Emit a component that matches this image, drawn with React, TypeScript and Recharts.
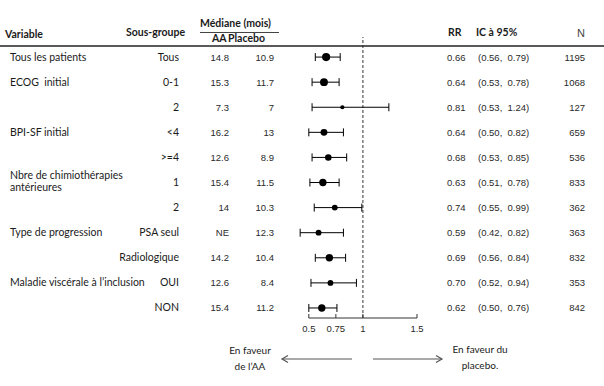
import React from 'react';
import { ComposedChart, Scatter, XAxis, YAxis, ZAxis, ErrorBar, ReferenceLine, Customized } from 'recharts';

const variables = ["Tous les patients", "ECOG  initial", "", "BPI-SF initial", "", "Nbre de chimiothérapies|antérieures", "", "Type de progression", "", "Maladie viscérale à l\u2019inclusion", ""];
const subgroups = ["Tous", "0-1", "2", "<4", ">=4", "1", "2", "PSA seul", "Radiologique", "OUI", "NON"];
const medianAA = ["14.8", "15.3", "7.3", "16.2", "12.6", "15.4", "14", "NE", "14.2", "12.6", "15.4"];
const medianPlacebo = ["10.9", "11.7", "7", "13", "8.9", "11.5", "10.3", "12.3", "10.4", "8.4", "11.2"];
const rrValues = [0.66, 0.64, 0.81, 0.64, 0.68, 0.63, 0.74, 0.59, 0.69, 0.70, 0.62];
const ciLow = [0.56, 0.53, 0.53, 0.50, 0.53, 0.51, 0.55, 0.42, 0.56, 0.52, 0.50];
const ciHigh = [0.79, 0.78, 1.24, 0.82, 0.85, 0.78, 0.99, 0.82, 0.84, 0.94, 0.76];
const nPatients = [1195, 1068, 127, 659, 536, 833, 362, 363, 832, 353, 842];
const xTicks = [0.5, 0.75, 1, 1.5];
const xTickLabels = ["0.5", "0.75", "1", "1.5"];

const rows = rrValues.map((rr, i) => ({
  row: i,
  rr,
  n: nPatients[i],
  err: [rr - ciLow[i], ciHigh[i] - rr],
}));
const rowTicks = rows.map((r) => r.row);

const TEXT_FONT = "Lato, 'Open Sans', sans-serif";
const NUM_FONT = "'Liberation Sans', Arial, sans-serif";

const RowTick = (props: any) => {
  const { y, payload } = props;
  const i = Math.round(payload.value);
  if (i < 0 || i >= rows.length) return <g />;
  const ty = y + 3.5;
  const label = variables[i];
  const labelLines = label.split('|');
  const numStyle = { fontFamily: NUM_FONT, fontSize: 9.5, fill: '#2a2a2a' } as any;
  const txtStyle = { fontFamily: TEXT_FONT, fontSize: 10.5, fill: '#1a1a1a', whiteSpace: 'pre' } as any;
  return (
    <g>
      {labelLines.length === 1 ? (
        <text x={10} y={ty} style={txtStyle}>{label}</text>
      ) : (
        labelLines.map((l, k) => (
          <text key={k} x={10} y={ty - 7 + k * 12} style={txtStyle}>{l}</text>
        ))
      )}
      <text x={179} y={ty} textAnchor="end" style={txtStyle}>{subgroups[i]}</text>
      <text x={229} y={ty} textAnchor="end" style={numStyle}>{medianAA[i]}</text>
      <text x={274} y={ty} textAnchor="end" style={numStyle}>{medianPlacebo[i]}</text>
      <text x={447} y={ty} style={numStyle}>{rrValues[i].toFixed(2)}</text>
      <text x={478} y={ty} style={{ ...numStyle, whiteSpace: 'pre' }}>{`(${ciLow[i].toFixed(2)},  ${ciHigh[i].toFixed(2)})`}</text>
      <text x={585} y={ty} textAnchor="end" style={numStyle}>{nPatients[i]}</text>
    </g>
  );
};

const XTick = (props: any) => {
  const { x, y, payload } = props;
  const idx = xTicks.indexOf(payload.value);
  return (
    <g>
      <line x1={x} x2={x} y1={y - 4} y2={y} stroke="#333" strokeWidth={1} />
      <text x={x} y={y + 14} textAnchor="middle" style={{ fontFamily: NUM_FONT, fontSize: 9.5, fill: '#2a2a2a' }}>
        {idx >= 0 ? xTickLabels[idx] : String(payload.value)}
      </text>
    </g>
  );
};

const HeaderFooter = () => {
  const bold = { fontFamily: TEXT_FONT, fontSize: 10.5, fontWeight: 700, fill: '#1a1a1a' } as any;
  const reg = { fontFamily: TEXT_FONT, fontSize: 10, fill: '#1a1a1a' } as any;
  return (
    <g>
      <text x={5} y={38} style={bold}>Variable</text>
      <text x={126} y={35.5} style={bold}>Sous-groupe</text>
      <text x={200} y={27} style={bold}>Médiane (mois)</text>
      <line x1={200} x2={279} y1={32.5} y2={32.5} stroke="#444" strokeWidth={1} />
      <text x={212} y={41.5} style={bold}>AA</text>
      <text x={228} y={41.5} style={bold}>Placebo</text>
      <text x={448} y={36} style={bold}>RR</text>
      <text x={476} y={36} style={bold}>IC à 95%</text>
      <text x={577} y={37} style={{ fontFamily: NUM_FONT, fontSize: 11, fill: '#444' }}>N</text>
      <rect x={0} y={45} width={604} height={2} fill="#5a5a5a" />

      <text x={250} y={354} textAnchor="middle" style={reg}>En faveur</text>
      <text x={250} y={370} textAnchor="middle" style={reg}>de l’AA</text>
      <line x1={282} x2={352} y1={359} y2={359} stroke="#555" strokeWidth={1.2} />
      <polyline points="288,355.5 282,359 288,362.5" fill="none" stroke="#555" strokeWidth={1.2} />
      <line x1={373} x2={442} y1={359} y2={359} stroke="#555" strokeWidth={1.2} />
      <polyline points="436,355.5 442,359 436,362.5" fill="none" stroke="#555" strokeWidth={1.2} />
      <text x={480} y={353} textAnchor="middle" style={reg}>En faveur du</text>
      <text x={480} y={369} textAnchor="middle" style={reg}>placebo.</text>
    </g>
  );
};

export default function App() {
  return (
    <div style={{ position: 'absolute', left: 0, top: 0, width: 604, height: 386, background: '#fff' }}>
      <ComposedChart width={604} height={386} data={rows} margin={{ top: 37, right: 187, bottom: 38, left: 297 }}>
        <XAxis
          type="number"
          dataKey="rr"
          domain={[0.4, 1.5]}
          ticks={xTicks}
          interval={0}
          axisLine={false}
          tickLine={false}
          tickSize={0}
          tickMargin={0}
          height={30}
          tick={<XTick />}
        />
        <YAxis
          type="number"
          dataKey="row"
          domain={[-0.8, 10.4]}
          reversed
          ticks={rowTicks}
          interval={0}
          width={1}
          axisLine={false}
          tickLine={false}
          tick={<RowTick />}
        />
        <ZAxis type="number" dataKey="n" domain={[127, 1195]} range={[14, 52]} scale="sqrt" />
        <ReferenceLine x={1} stroke="#333" strokeDasharray="3 2" strokeWidth={1} />
        <ReferenceLine segment={[{ x: 0.5, y: 10.4 }, { x: 1.5, y: 10.4 }]} stroke="#333" strokeWidth={1} />
        <Scatter data={rows} dataKey="rr" fill="#000" isAnimationActive={false}>
          <ErrorBar dataKey="err" direction="x" width={4} stroke="#000" strokeWidth={1} isAnimationActive={false} />
        </Scatter>
        <Customized component={HeaderFooter} />
      </ComposedChart>
    </div>
  );
}
